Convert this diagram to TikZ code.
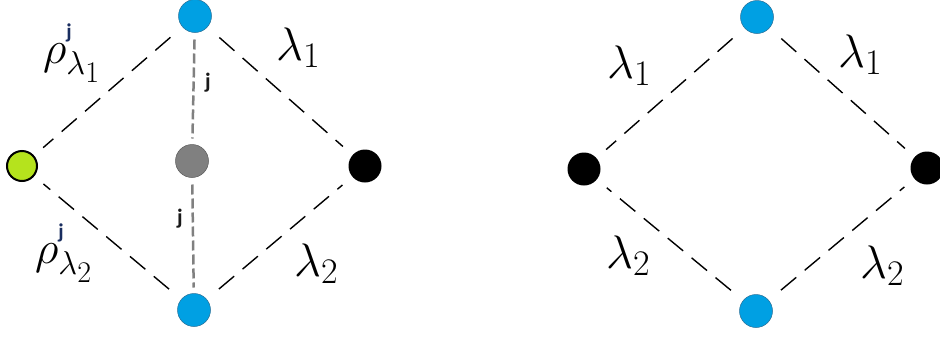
\RequirePackage{fix-cm}
\documentclass[tikz,border=0pt]{standalone}
\usepackage{fontspec}
\newfontfamily\carlito{Carlito}
\definecolor{dotblue}{RGB}{0,160,227}
\definecolor{dotblueedge}{RGB}{40,110,150}
\definecolor{dotgreen}{RGB}{181,227,29}
\definecolor{dotgray}{RGB}{128,128,128}
\definecolor{jnavy}{RGB}{25,45,95}
\newcommand{\jsup}{\raisebox{8pt}{\carlito\bfseries\fontsize{21}{21}\selectfont\color{jnavy}j}}
\newcommand{\lam}[1]{\ensuremath{\lambda_{\mbox{\fontsize{36}{36}\selectfont #1}}}}
\newcommand{\slam}[1]{\mbox{\fontsize{33}{33}\selectfont$\lambda_{\mbox{\fontsize{30}{30}\selectfont #1}}$}}
\begin{document}
\begin{tikzpicture}[x=1pt,y=-1pt,
  dot/.style={circle, minimum size=33pt, inner sep=0pt, outer sep=0pt},
  bluedot/.style={dot, fill=dotblue, draw=dotblueedge, line width=0.5pt},
  blackdot/.style={dot, fill=black},
  graydot/.style={dot, fill=dotgray, draw=dotgray!70!black, line width=0.5pt},
  greendot/.style={dot, minimum size=30pt, fill=dotgreen, draw=black, line width=2pt},
  edge/.style={dash pattern=on 20pt off 11pt, line width=1.4pt, shorten >=13pt, shorten <=16pt},
  gedge/.style={draw=dotgray, dash pattern=on 10pt off 4pt, line width=2.5pt, shorten >=6pt, shorten <=7pt},
  lbl/.style={font=\fontsize{47}{52}\selectfont, inner sep=0pt, anchor=base west},
  rlbl/.style={font=\fontsize{46}{50}\selectfont, inner sep=0pt, anchor=base west},
  jl/.style={font=\fontsize{22}{24}\selectfont\carlito\bfseries, text=black!90, inner sep=0pt}
]
\useasboundingbox (0,0) rectangle (940,338);

% left diagram
\node[bluedot]  (t1) at (195,16) {};
\node[graydot]  (m1) at (192,161) {};
\node[greendot] (g1) at (22,166) {};
\node[blackdot] (r1) at (365,166) {};
\node[bluedot]  (b1) at (194,310) {};

\draw[edge] (t1) -- (g1);
\draw[edge] (b1) -- (g1);
\draw[edge] (t1) -- (r1);
\draw[edge] (b1) -- (r1);
\draw[gedge] (t1) -- (m1);
\draw[gedge] (m1) -- (b1);

\node[rlbl] (la) at (43,63) {$\rho^{\jsup}_{\slam{1}}$};
\node[rlbl] (lb) at (35,263) {$\rho^{\jsup}_{\slam{2}}$};
\node[lbl] (lc) at (276,60) {\lam{1}};
\node[lbl] (ld) at (294,276) {\lam{2}};
\node[jl] (j1) at (208,83) {j};
\node[jl] (j2) at (180,219) {j};

% right diagram
\node[bluedot]  (t2) at (757,17) {};
\node[blackdot] (l2) at (584,169) {};
\node[blackdot] (r2) at (927,168) {};
\node[bluedot]  (b2) at (756,311) {};

\draw[edge] (t2) -- (l2);
\draw[edge] (b2) -- (l2);
\draw[edge] (t2) -- (r2);
\draw[edge] (b2) -- (r2);

\node[lbl] (le) at (607,78) {\lam{1}};
\node[lbl] (lf) at (838,67) {\lam{1}};
\node[lbl] (lg) at (606,268) {\lam{2}};
\node[lbl] (lh) at (860,278) {\lam{2}};
\end{tikzpicture}
\end{document}
